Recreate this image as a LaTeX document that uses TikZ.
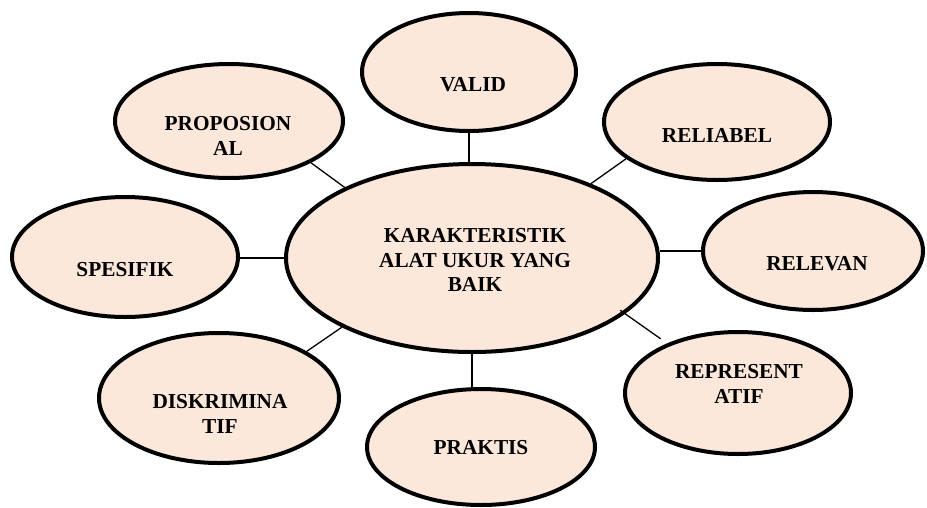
\documentclass[tikz,border=0pt]{standalone}
\usepackage{fontspec}
\setmainfont{Liberation Serif}
\usetikzlibrary{shapes.geometric}
\definecolor{peach}{HTML}{FCE8DA}
\begin{document}
\begin{tikzpicture}[x=1pt,y=-1pt,
  bubble/.style={ellipse,draw=black,line width=4pt,fill=peach,inner sep=0pt},
  lbl/.style={font=\fontsize{21.3}{24.5}\selectfont\bfseries,align=center,inner sep=0pt},
  link/.style={line width=1.3pt,draw=black}]
\useasboundingbox (0,0) rectangle (927,507);

% outer characteristics
\node[bubble,minimum width=214pt,minimum height=118pt] (valid) at (469,72) {};
\node[bubble,minimum width=226pt,minimum height=116pt] (reliabel) at (717,122) {};
\node[bubble,minimum width=220pt,minimum height=118pt] (relevan) at (813,251) {};
\node[bubble,minimum width=226pt,minimum height=122pt] (repr) at (738,393) {};
\node[bubble,minimum width=228pt,minimum height=116pt] (praktis) at (481,447) {};
\node[bubble,minimum width=240pt,minimum height=130pt] (diskr) at (219,398) {};
\node[bubble,minimum width=226pt,minimum height=120pt] (spes) at (125,257) {};
\node[bubble,minimum width=228pt,minimum height=114pt] (prop) at (229,121) {};

% central idea
\node[bubble,minimum width=372pt,minimum height=188pt] (c) at (472,258) {};

% spokes
\draw[link] (valid.south) -- (valid.south |- c.north);
\draw[link] (c.32.6) -- (reliabel.202.3);
\draw[link] (relevan.west) -- (relevan.west -| c.east);
\draw[link, shorten <=-6pt, shorten >=8pt] (c.-20.6) -- (repr.145.5);
\draw[link] (c.south) -- (c.south |- praktis.north);
\draw[link] (c.208.3) -- (diskr.28.3);
\draw[link] (c.west) -- (c.west -| spes.east);
\draw[link] (c.151.7) -- (prop.-27.6);

% texts
\node[lbl] (tc) at (475,260) {KARAKTERISTIK\\ALAT UKUR YANG\\BAIK};
\node[lbl] (tvalid) at (473,85) {VALID};
\node[lbl] (treliabel) at (717,135) {RELIABEL};
\node[lbl] (trelevan) at (817,264) {RELEVAN};
\node[lbl] (trepr) at (739,384) {REPRESENT\\ATIF};
\node[lbl] (tpraktis) at (481,448) {PRAKTIS};
\node[lbl] (tdiskr) at (220,414) {DISKRIMINA\\TIF};
\node[lbl] (tspes) at (125,270) {SPESIFIK};
\node[lbl] (tprop) at (228,136) {PROPOSION\\AL};
\end{tikzpicture}
\end{document}
